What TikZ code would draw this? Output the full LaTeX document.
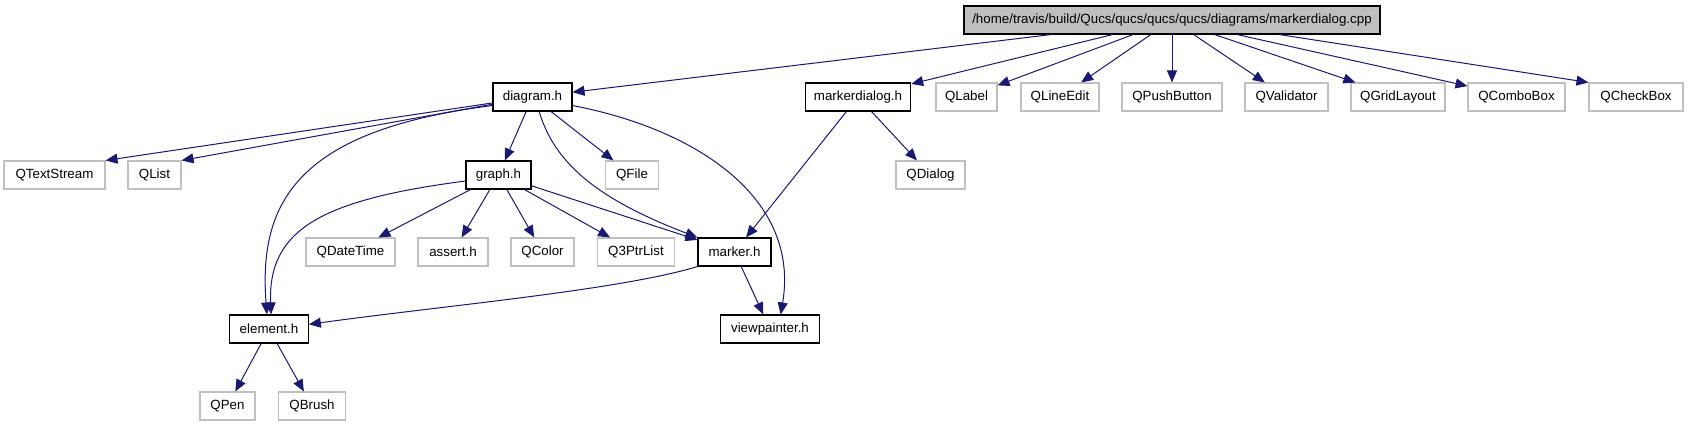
\documentclass[tikz,border=0pt]{standalone}
\usepackage{fontspec}
\setmainfont{Liberation Sans}
\usetikzlibrary{arrows.meta, calc}
\definecolor{EdgeLine}{RGB}{25,25,112}
\definecolor{ExtLine} {RGB}{191,191,191}
\definecolor{SrcFill} {RGB}{191,191,191}
\tikzset{
  % Header box with optional width (default 60pt)
  inc/.style={
    rectangle, draw=black, fill=white, line width=0.8pt,
    align=center, font=\fontsize{10}{12}\selectfont,
    inner sep=0pt, minimum height=21pt, minimum width=#1
  },
  inc/.default=60pt,
  % Qt classes: same box, light grey outline
  ext/.style={inc=#1, draw=ExtLine},
  ext/.default=60pt,
  % The file the graph is about
  srcbox/.style={inc=312pt, fill=SrcFill},
  arr/.style={-{Triangle[length=9pt, width=7.5pt]}, draw=EdgeLine, line width=0.75pt}
}

\begin{document}
\begin{tikzpicture}[x=0.75pt, y=-0.75pt]
  \useasboundingbox (0,0) rectangle (1688,427);

  %% ── Source file ────────────────────────────────────────────────────────────
  \node[srcbox] (src) at (1172,20)
    {/home/travis/build/Qucs/qucs/qucs/qucs/diagrams/markerdialog.cpp};

  %% ── First level ────────────────────────────────────────────────────────────
  \node[inc=59.25pt] (diag) at (532.5,97)  {diagram.h};
  \node[inc=79pt]    (mdlg) at (858,97)    {markerdialog.h};
  \node[ext=45.75pt] (qlbl) at (966.5,97)  {QLabel};
  \node[ext=58.5pt]  (qled) at (1060,97)   {QLineEdit};
  \node[ext=75pt]    (qpbt) at (1172,97)   {QPushButton};
  \node[ext=62.25pt] (qval) at (1286.5,97) {QValidator};
  \node[ext=70.5pt]  (qgrd) at (1398,97)   {QGridLayout};
  \node[ext=72.75pt] (qcmb) at (1516.5,97) {QComboBox};
  \node[ext=70.5pt]  (qchk) at (1636,97)   {QCheckBox};

  \draw[arr] (src) -- (diag);
  \draw[arr] (src) -- (mdlg);
  \draw[arr] (src) -- (qlbl);
  \draw[arr] (src) -- (qled);
  \draw[arr] (src) -- (qpbt);
  \draw[arr] (src) -- (qval);
  \draw[arr] (src) -- (qgrd);
  \draw[arr] (src) -- (qcmb);
  \draw[arr] ($(src.south west)!0.757!(src.south east)$) -- (qchk.north west);

  %% ── Second level ───────────────────────────────────────────────────────────
  \node[ext=75.75pt] (qtxt) at (54.5,175)  {QTextStream};
  \node[ext=39.75pt] (qlst) at (154.5,175) {QList};
  \node[inc=48.75pt] (grph) at (498.5,175) {graph.h};
  \node[ext=40pt]    (qfil) at (632,175)   {QFile};
  \node[ext=51.75pt] (qdlg) at (930.5,175) {QDialog};

  \draw[arr] (diag) -- (qtxt.north east);
  \draw[arr] (diag) -- (qlst.north east);
  \draw[arr] (diag) -- (grph);
  \draw[arr] (diag) -- (qfil);
  \draw[arr] (mdlg) -- (qdlg);

  %% ── Third level ────────────────────────────────────────────────────────────
  \node[ext=66.75pt] (qdtm) at (350.5,252) {QDateTime};
  \node[ext=52.5pt]  (asrt) at (453,252)   {assert.h};
  \node[ext=47.25pt] (qclr) at (542.5,252) {QColor};
  \node[ext=58pt]    (qptr) at (636,252)   {Q3PtrList};
  \node[inc=54.75pt] (mrkr) at (734.5,252) {marker.h};

  \draw[arr] (grph) -- (qdtm);
  \draw[arr] (grph) -- (asrt);
  \draw[arr] (grph) -- (qclr);
  \draw[arr] (grph) -- (qptr);
  \draw[arr] (grph) -- (mrkr);
  \draw[arr] (mdlg) -- (mrkr);
  % diagram.h bends round to marker.h
  \draw[arr] ([xshift=5pt]diag.south) .. controls (555,165) and (600,200) .. (mrkr.north west);

  %% ── Fourth and fifth level ─────────────────────────────────────────────────
  \node[inc=59pt]    (elem) at (269,329)   {element.h};
  \node[inc=74pt]    (vpnt) at (770,329)   {viewpainter.h};
  \node[ext=41.25pt] (qpen) at (227.5,406) {QPen};
  \node[ext=50pt]    (qbsh) at (312,406)   {QBrush};

  % long curved edges into element.h and viewpainter.h
  \draw[arr] ([yshift=4.5pt]diag.south west) .. controls (300,130) and (258,200) .. ([xshift=-1.5pt]elem.north);
  \draw[arr] ([yshift=-4.5pt]grph.west) .. controls (320,200) and (268,230) .. ([xshift=1.5pt]elem.north);
  \draw[arr] (mrkr.south west) .. controls (620,290) and (450,305) .. ([yshift=3.5pt]elem.east);
  \draw[arr] ([yshift=4.5pt]diag.south east) .. controls (700,130) and (800,200) .. ([xshift=8pt]vpnt.north);
  \draw[arr] (mrkr) -- (vpnt);

  \draw[arr] (elem) -- (qpen);
  \draw[arr] (elem) -- (qbsh);

\end{tikzpicture}
\end{document}
